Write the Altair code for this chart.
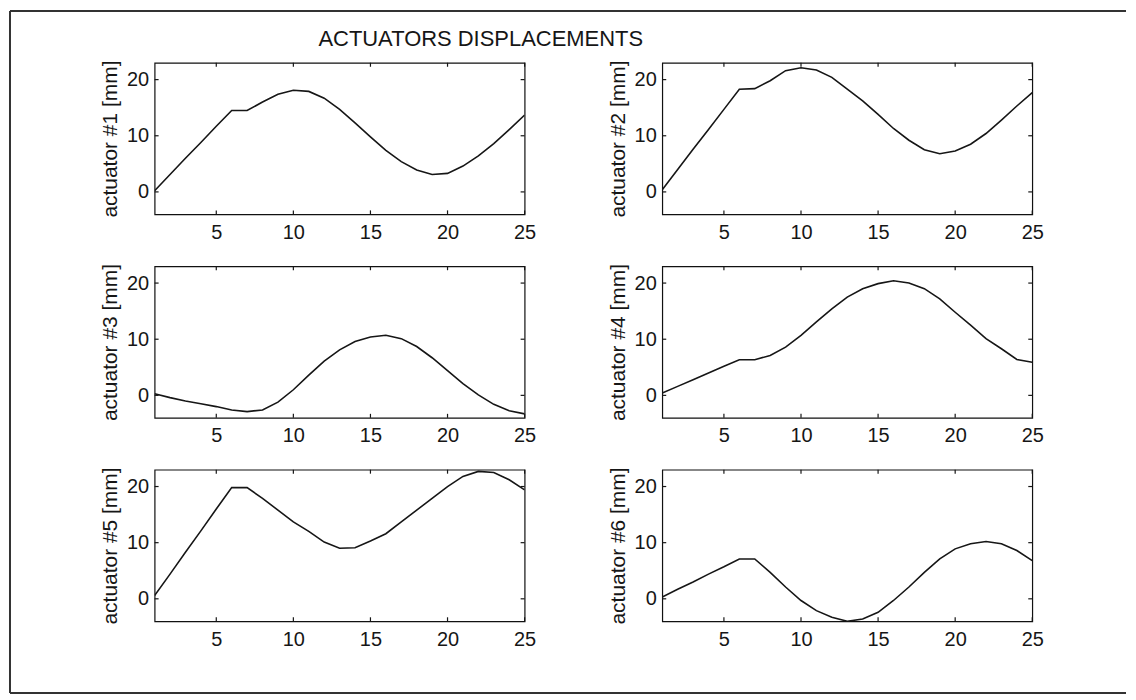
import altair as alt
import pandas as pd

# ---------------- data ----------------
x_vals = list(range(1, 26))

act1 = [0.2, 3.1, 6.0, 8.8, 11.7, 14.5, 14.5, 16.0, 17.4, 18.1, 17.9, 16.7, 14.7,
        12.3, 9.8, 7.4, 5.4, 3.9, 3.1, 3.3, 4.6, 6.4, 8.6, 11.1, 13.7]
act2 = [0.4, 4.0, 7.6, 11.1, 14.7, 18.3, 18.4, 19.8, 21.6, 22.1, 21.7, 20.4, 18.3,
        16.2, 13.8, 11.3, 9.2, 7.5, 6.8, 7.3, 8.5, 10.4, 12.8, 15.3, 17.7]
act3 = [0.3, -0.4, -1.0, -1.5, -2.0, -2.6, -2.9, -2.6, -1.2, 1.0, 3.6, 6.1, 8.1,
        9.6, 10.4, 10.7, 10.1, 8.7, 6.7, 4.4, 2.1, 0.1, -1.6, -2.75, -3.3]
act4 = [0.4, 1.6, 2.8, 4.0, 5.2, 6.35, 6.35, 7.1, 8.6, 10.7, 13.1, 15.4, 17.5,
        19.0, 19.9, 20.4, 20.0, 19.0, 17.2, 14.8, 12.5, 10.1, 8.3, 6.4, 5.9]
act5 = [0.6, 4.4, 8.3, 12.1, 16.0, 19.8, 19.8, 17.9, 15.8, 13.7, 12.0, 10.1, 9.0,
        9.1, 10.3, 11.6, 13.7, 15.8, 17.9, 20.0, 21.8, 22.7, 22.5, 21.2, 19.4]
act6 = [0.3, 1.7, 3.0, 4.4, 5.7, 7.1, 7.1, 4.7, 2.1, -0.3, -2.1, -3.3, -4.0,
        -3.6, -2.4, -0.3, 2.1, 4.7, 7.1, 8.9, 9.8, 10.2, 9.8, 8.6, 6.8]

series = [act1, act2, act3, act4, act5, act6]
labels = ["actuator #1 [mm]", "actuator #2 [mm]", "actuator #3 [mm]",
          "actuator #4 [mm]", "actuator #5 [mm]", "actuator #6 [mm]"]
x_ticks = [5, 10, 15, 20, 25]
y_ticks = [0, 10, 20]
title_text = "ACTUATORS DISPLACEMENTS"

# ---------------- styling ----------------
FONT = "Liberation Sans"
INK = "#161616"
FRAME = "#333333"
W, H = 371, 152
TICK = 4

# outer frame, relative to the first panel's plot area
F_LEFT, F_TOP, F_RIGHT, F_BOTTOM = -145, -52, 974, 632

xscale = alt.Scale(domain=[1, 25], nice=False, zero=False)
yscale = alt.Scale(domain=[-4, 23], nice=False, zero=False)
one = pd.DataFrame({"k": [0]})


def panel(vals, label, decorate=False):
    xaxis = alt.Axis(values=x_ticks, title=None, ticks=False, grid=False,
                     domain=False, labelFlush=False, labelPadding=8,
                     labelFontSize=20, labelFont=FONT, labelColor=INK)
    yaxis = alt.Axis(values=y_ticks, title=label, ticks=False, grid=False,
                     domain=False, labelPadding=6, labelFontSize=20,
                     labelFont=FONT, labelColor=INK, titlePadding=6,
                     titleFontSize=21, titleFont=FONT,
                     titleFontWeight="normal", titleColor=INK)
    df = pd.DataFrame({"x": x_vals, "y": vals})
    line = alt.Chart(df).mark_line(color=INK, strokeWidth=1.6, clip=True).encode(
        x=alt.X("x:Q", scale=xscale, axis=xaxis),
        y=alt.Y("y:Q", scale=yscale, axis=yaxis),
    )
    xt = pd.DataFrame({"x": x_ticks})
    yt = pd.DataFrame({"y": y_ticks})
    top = alt.Chart(xt).mark_rule(color=INK, strokeWidth=1.2).encode(
        x=alt.X("x:Q", scale=xscale, axis=xaxis),
        y=alt.value(0), y2=alt.value(TICK))
    bottom = alt.Chart(xt).mark_rule(color=INK, strokeWidth=1.2).encode(
        x=alt.X("x:Q", scale=xscale, axis=xaxis),
        y=alt.value(H), y2=alt.value(H - TICK))
    left = alt.Chart(yt).mark_rule(color=INK, strokeWidth=1.2).encode(
        y=alt.Y("y:Q", scale=yscale, axis=yaxis),
        x=alt.value(0), x2=alt.value(TICK))
    right = alt.Chart(yt).mark_rule(color=INK, strokeWidth=1.2).encode(
        y=alt.Y("y:Q", scale=yscale, axis=yaxis),
        x=alt.value(W), x2=alt.value(W - TICK))
    layers = [line, top, bottom, left, right]
    if decorate:
        layers += [
            alt.Chart(one).mark_rule(color=FRAME, strokeWidth=2).encode(
                x=alt.value(F_LEFT), x2=alt.value(F_RIGHT), y=alt.value(F_TOP)),
            alt.Chart(one).mark_rule(color=FRAME, strokeWidth=2).encode(
                x=alt.value(F_LEFT), y=alt.value(F_TOP), y2=alt.value(F_BOTTOM)),
            alt.Chart(one).mark_rule(color=FRAME, strokeWidth=2).encode(
                x=alt.value(F_LEFT), x2=alt.value(F_RIGHT), y=alt.value(F_BOTTOM)),
            alt.Chart(one).mark_text(
                text=title_text, font=FONT, fontSize=22, color=INK,
                align="center", baseline="alphabetic"
            ).encode(x=alt.value(327), y=alt.value(-17)),
        ]
    return alt.layer(*layers).properties(width=W, height=H)


panels = [panel(v, l, decorate=(i == 0)) for i, (v, l) in enumerate(zip(series, labels))]

chart = alt.concat(
    *panels, columns=2, spacing={"row": 52, "column": 138}, bounds="flush"
).properties(
    padding=0, background="white"
).configure_view(stroke="#111111", strokeWidth=1.2)

chart.save("out.html", embed_options={"renderer": "svg", "actions": False})
